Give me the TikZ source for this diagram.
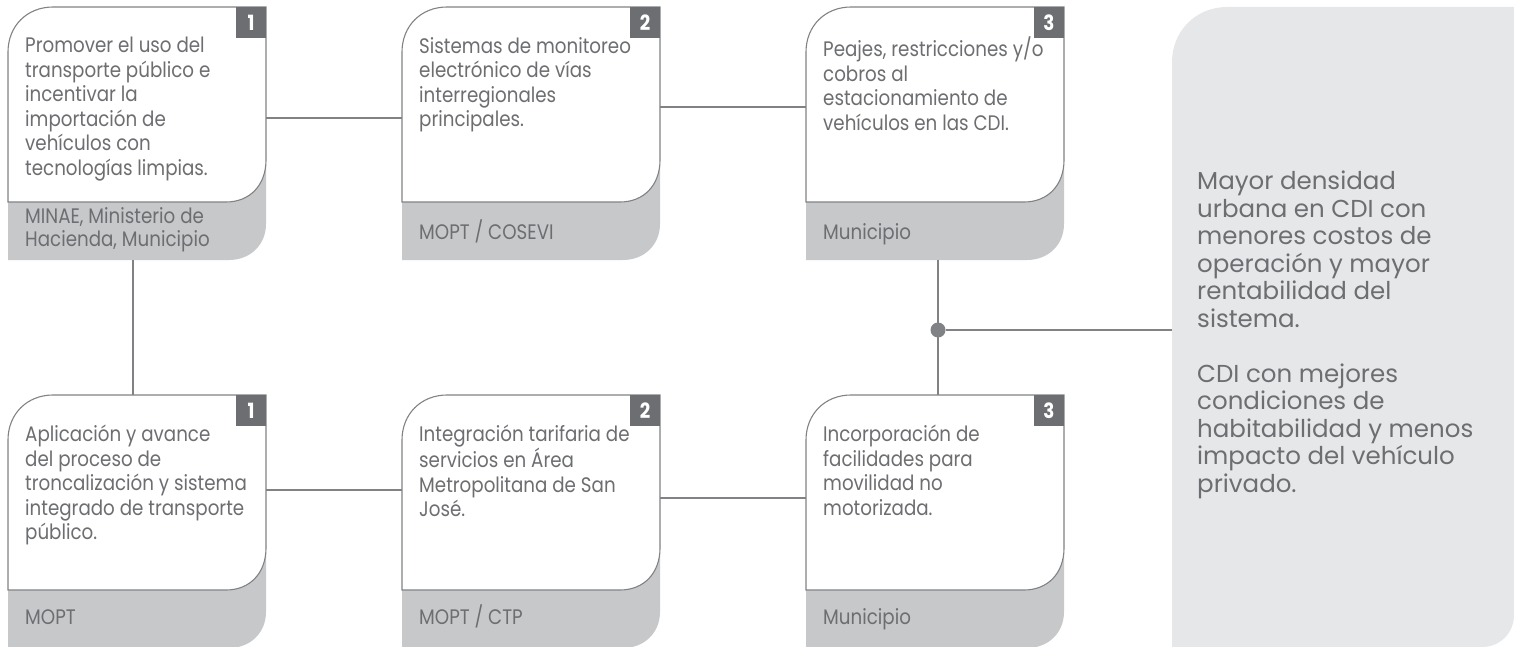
\documentclass[tikz,border=0pt]{standalone}
\usepackage{fontspec}
\setmainfont{Poppins}
\newfontfamily\cardfont[FakeStretch=0.87]{Poppins}
\newfontfamily\panelfont[FakeStretch=1.0]{Poppins}
\definecolor{txtgray}{HTML}{6D6E71}
\definecolor{linegray}{HTML}{808285}
\definecolor{stripgray}{HTML}{C7C8CA}
\definecolor{panelgray}{HTML}{E6E7E8}
\definecolor{badgegray}{HTML}{6D6E71}
\tikzset{
  cardarea/.style={minimum width=258pt, minimum height=253pt, inner sep=0pt, draw=none},
  cardline/.style={draw=linegray, line width=1.1pt, fill=white},
  stripfill/.style={fill=stripgray},
  badge/.style={fill=badgegray, text=white, minimum width=30pt, minimum height=31pt, inner sep=0pt, font=\cardfont\fontsize{21}{21}\selectfont\bfseries},
  maintext/.style={text=txtgray, align=left, inner sep=0pt, anchor=north west, font=\cardfont\fontsize{21}{24.5}\selectfont, execute at begin node={\rule{0pt}{20pt}}},
  agencytext/.style={text=txtgray, align=left, inner sep=0pt, anchor=north west, font=\cardfont\fontsize{21}{23.5}\selectfont, execute at begin node={\rule{0pt}{20pt}}},
  paneltext/.style={text=txtgray, align=left, inner sep=0pt, anchor=north west, font=\panelfont\fontsize{24.5}{27.5}\selectfont, execute at begin node={\rule{0pt}{24pt}}},
  conn/.style={draw=linegray, line width=1.1pt},
  junction/.style={circle, fill=linegray, minimum size=15pt, inner sep=0pt}
}
% #1 name, #2 left x, #3 top y, #4 number, #5 main text, #6 agency text, #7 agency baseline offset
\newcommand\drawcard[7]{%
  \node[cardarea] (#1) at (#2+129,#3+126.5) {};
  \fill[stripfill] (#2,#3+150) -- (#2+258,#3+150) -- (#2+258,#3+217)
     .. controls (#2+258,#3+238) and (#2+242,#3+253) .. (#2+221,#3+253) -- (#2,#3+253) -- cycle;
  \draw[cardline] (#2,#3+45) .. controls (#2,#3+19) and (#2+19,#3) .. (#2+45,#3)
     -- (#2+258,#3) -- (#2+258,#3+153)
     .. controls (#2+258,#3+178) and (#2+242,#3+195) .. (#2+218,#3+195) -- (#2,#3+195) -- cycle;
  \node[badge, anchor=north east] (#1-num) at (#1.north east) {#4};
  \node[maintext] (#1-txt) at (#2+17,#3+50-20) {#5};
  \node[agencytext] (#1-ag) at (#2+17,#3+#7-20) {#6};
}
\begin{document}
\begin{tikzpicture}[x=1pt,y=-1pt]
\useasboundingbox (0,0) rectangle (1514,647);
% right panel
\fill[panelgray] (1172,62) .. controls (1172,31) and (1196,7) .. (1227,7) -- (1514,7) -- (1514,615)
   .. controls (1514,633) and (1500,647) .. (1482,647) -- (1172,647) -- cycle;
\node[cardarea, minimum width=342pt, minimum height=640pt] (panel) at (1343,327) {};
\node[paneltext] (panel-txt) at (1197,195-24) {Mayor densidad\\urbana en CDI con\\menores costos de\\operación y mayor\\rentabilidad del\\sistema.\\[27.5pt]CDI con mejores\\condiciones de\\habitabilidad y menos\\impacto del vehículo\\privado.};

\drawcard{a1}{8}{7}{1}{Promover el uso del\\transporte público e\\incentivar la\\importación de\\vehículos con\\tecnologías limpias.}{MINAE, Ministerio de\\Hacienda, Municipio}{220}
\drawcard{a2}{402}{7}{2}{Sistemas de monitoreo\\electrónico de vías\\interregionales\\principales.}{MOPT / COSEVI}{232}
\drawcard{a3}{806}{7}{3}{Peajes, restricciones y/o\\cobros al\\estacionamiento de\\vehículos en las CDI.}{Municipio}{232}
\drawcard{b1}{8}{395}{1}{Aplicación y avance\\del proceso de\\troncalización y sistema\\integrado de transporte\\público.}{MOPT}{229}
\drawcard{b2}{402}{395}{2}{Integración tarifaria de\\servicios en Área\\Metropolitana de San\\José.}{MOPT / CTP}{229}
\drawcard{b3}{806}{395}{3}{Incorporación de\\facilidades para\\movilidad no\\motorizada.}{Municipio}{229}

% connectors
\draw[conn] (a1.east |- 0,118) -- (a2.west |- 0,118);
\draw[conn] (a2.east |- 0,107) -- (a3.west |- 0,107);
\draw[conn] (a1.south -| 133,0) -- (b1.north -| 133,0);
\draw[conn] (b1.east |- 0,490) -- (b2.west |- 0,490);
\draw[conn] (b2.east |- 0,498) -- (b3.west |- 0,498);
\node[junction] (jn) at (938,330) {};
\draw[conn] (a3.south -| jn) -- (b3.north -| jn);
\draw[conn] (jn) -- (panel.west |- jn);
\end{tikzpicture}
\end{document}
